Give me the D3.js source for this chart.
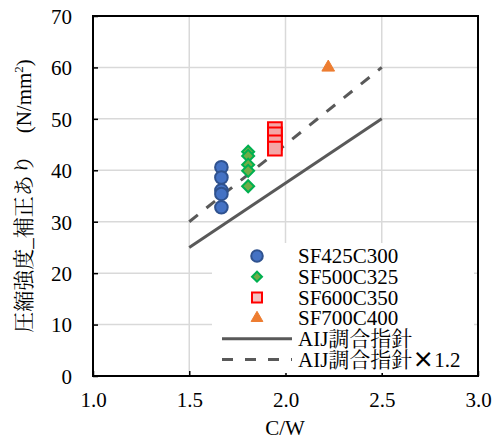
<!DOCTYPE html>
<html><head><meta charset="utf-8">
<script src="https://cdn.jsdelivr.net/npm/d3@7"></script>
<style>body{margin:0;background:#fff}</style>
</head><body>
<script>
const xTicks = [1.0, 1.5, 2.0, 2.5, 3.0];
const yTicks = [0, 10, 20, 30, 40, 50, 60, 70];
const seriesNames = ["SF425C300", "SF500C325", "SF600C350", "SF700C400"];
const sf425x = [1.667, 1.667, 1.667, 1.667, 1.667];
const sf425y = [40.6, 38.6, 36.1, 35.4, 32.8];
const sf500x = [1.806, 1.806, 1.806, 1.806, 1.806];
const sf500y = [43.6, 42.8, 41.1, 39.9, 36.9];
const sf600x = [1.945, 1.945, 1.945, 1.945];
const sf600y = [48.0, 47.0, 45.4, 44.2];
const sf700x = [2.222];
const sf700y = [60.0];
const aijX = [1.5, 2.5];
const aijY = [25, 50];
const aij12Y = [30, 60];
const lineNames = ["AIJ調合指針", "AIJ調合指針"];
const lineSuffix = ["", "×1.2"];

const W = 498, H = 445;
const SERIF = '"Liberation Serif", "Times New Roman"';
const CJK = '"Liberation Serif", "Noto Serif CJK JP"';
const svg = d3.select("body").append("svg").attr("width", W).attr("height", H);
const x = d3.scaleLinear().domain([1, 3]).range([93, 478]);
const y = d3.scaleLinear().domain([0, 70]).range([376, 16]);

// gridlines
svg.append("g").selectAll("line.h").data(yTicks.filter(d => d > 0 && d < 70)).join("line")
  .attr("x1", x(1)).attr("x2", x(3)).attr("y1", d => y(d)).attr("y2", d => y(d))
  .attr("stroke", "#d9d9d9").attr("stroke-width", 1.5);
svg.append("g").selectAll("line.v").data(xTicks.filter(d => d > 1 && d < 3)).join("line")
  .attr("y1", y(0)).attr("y2", y(70)).attr("x1", d => x(d)).attr("x2", d => x(d))
  .attr("stroke", "#d9d9d9").attr("stroke-width", 1.5);

// axes with inward ticks
const xAxis = svg.append("g").attr("transform", `translate(0,${y(0)})`)
  .call(d3.axisBottom(x).tickValues(xTicks).tickSizeInner(-5).tickSizeOuter(0).tickPadding(16).tickFormat(d3.format(".1f")));
const yAxis = svg.append("g").attr("transform", `translate(${x(1)},0)`)
  .call(d3.axisLeft(y).tickValues(yTicks).tickSizeInner(-5).tickSizeOuter(0).tickPadding(21));
[xAxis, yAxis].forEach(a => {
  a.attr("font-family", null).attr("font-size", null);
  a.selectAll("text").style("font-family", SERIF).style("font-size", "21px").attr("fill", "#000");
  a.selectAll("line").attr("stroke", "#000").attr("stroke-width", 1.5);
  a.select(".domain").remove();
});
yAxis.selectAll("text").attr("dy", "0.35em");

// frame
svg.append("rect").attr("x", x(1)).attr("y", y(70)).attr("width", x(3) - x(1)).attr("height", y(0) - y(70))
  .attr("fill", "none").attr("stroke", "#000").attr("stroke-width", 2);

// lines
const lineGen = d3.line().x(d => x(d[0])).y(d => y(d[1]));
svg.append("path").attr("d", lineGen(d3.zip(aijX, aijY))).attr("stroke", "#595959").attr("stroke-width", 3).attr("fill", "none");
svg.append("path").attr("d", lineGen(d3.zip(aijX, aij12Y))).attr("stroke", "#595959").attr("stroke-width", 3).attr("fill", "none").attr("stroke-dasharray", "11,11");

// markers
const sym = (type, size) => d3.symbol().type(type).size(size)();
function drawPts(xs, ys, type, size, fill, stroke, sw, rot) {
  svg.append("g").selectAll("path").data(d3.zip(xs, ys)).join("path")
    .attr("transform", d => `translate(${x(d[0])},${y(d[1])}) rotate(${rot || 0})`)
    .attr("d", sym(type, size)).attr("fill", fill).attr("stroke", stroke).attr("stroke-width", sw);
}
drawPts(sf425x, sf425y, d3.symbolCircle, 125, "#4472c4", "#2f528f", 2);
drawPts(sf500x, sf500y, d3.symbolSquare, 72, "#70ad47", "#00b050", 2, 45);
drawPts(sf600x, sf600y, d3.symbolSquare, 190, "#f4a7a7", "#ff0000", 2);
drawPts(sf700x, sf700y, d3.symbolTriangle, 70, "#ed7d31", "#ed7d31", 1);

// legend
const lg = svg.append("g");
lg.append("rect").attr("x", 212).attr("y", 243).attr("width", 262).attr("height", 130).attr("fill", "#fff");
const rowY = i => 256 + i * 20.7;
const mk = [
  [d3.symbolCircle, 105, "#4472c4", "#2f528f", 2, 0],
  [d3.symbolSquare, 50, "#70ad47", "#00b050", 2, 45],
  [d3.symbolSquare, 100, "#f4c2c2", "#ff0000", 2, 0],
  [d3.symbolTriangle, 60, "#ed7d31", "#ed7d31", 1, 0]
];
seriesNames.forEach((n, i) => {
  const m = mk[i];
  lg.append("path").attr("transform", `translate(257,${rowY(i)}) rotate(${m[5]})`).attr("d", sym(m[0], m[1]))
    .attr("fill", m[2]).attr("stroke", m[3]).attr("stroke-width", m[4]);
  lg.append("text").attr("x", 298).attr("y", rowY(i)).attr("dy", "0.35em")
    .style("font-family", SERIF).style("font-size", "21px").text(n);
});
lineNames.forEach((n, j) => {
  const i = j + 4;
  lg.append("line").attr("x1", 222).attr("x2", 292).attr("y1", rowY(i)).attr("y2", rowY(i))
    .attr("stroke", "#595959").attr("stroke-width", 3).attr("stroke-dasharray", j ? "11,12" : null);
  const t = lg.append("text").attr("x", 298).attr("y", rowY(i)).attr("dy", "0.35em")
    .style("font-family", CJK).style("font-size", "21px");
  t.append("tspan").text(n);
  if (lineSuffix[j]) {
    t.append("tspan").style("font-family", '"Noto Sans CJK JP"').style("font-size", "22px").style("font-weight", "bold").text(lineSuffix[j].slice(0, 1));
    t.append("tspan").style("font-family", SERIF).text(lineSuffix[j].slice(1));
  }
});

// axis titles
svg.append("text").attr("x", 285).attr("y", 435).attr("text-anchor", "middle")
  .style("font-family", SERIF).style("font-size", "21px").text("C/W");
const yt = svg.append("text").attr("transform", "translate(31,196) rotate(-90)").attr("text-anchor", "middle")
  .style("font-family", CJK).style("font-size", "21px");
yt.append("tspan").text("圧縮強度_補正あり　(N/mm");
yt.append("tspan").style("font-size", "13px").attr("dy", -8).text("2");
yt.append("tspan").attr("dy", 8).text(")");
</script>
</body></html>
